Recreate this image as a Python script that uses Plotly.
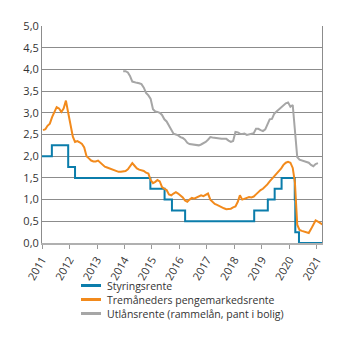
import plotly.graph_objects as go

# Styringsrente (policy rate) change dates and levels
policy_dates = ["2011-01-01", "2011-05-12", "2011-12-15", "2012-03-15", "2014-12-11",
                "2015-06-18", "2015-09-24", "2016-03-17", "2018-09-21", "2019-03-21",
                "2019-06-20", "2019-09-20", "2020-03-13", "2020-03-20", "2020-05-08",
                "2021-03-10"]
policy_rate = [2.0, 2.25, 1.75, 1.5, 1.25, 1.0, 0.75, 0.5, 0.75, 1.0,
               1.25, 1.5, 1.0, 0.25, 0.0, 0.0]

# Tremåneders pengemarkedsrente, monthly (mid-month) Jan 2011 - Mar 2021
nibor_start = "2011-01-15"
nibor = [
    2.60, 2.62, 2.70, 2.75, 2.90, 3.02, 3.13, 3.10, 3.02, 3.10, 3.28, 3.00,
    2.70, 2.45, 2.33, 2.35, 2.32, 2.28, 2.20, 2.00, 1.95, 1.90, 1.88, 1.88,
    1.90, 1.85, 1.82, 1.76, 1.74, 1.72, 1.69, 1.68, 1.66, 1.64, 1.64, 1.65,
    1.66, 1.70, 1.76, 1.84, 1.78, 1.72, 1.69, 1.68, 1.66, 1.62, 1.60, 1.45,
    1.38, 1.41, 1.45, 1.42, 1.29, 1.25, 1.22, 1.12, 1.10, 1.14, 1.17, 1.14,
    1.10, 1.05, 0.98, 0.95, 1.00, 1.04, 1.02, 1.05, 1.08, 1.10, 1.08, 1.12,
    1.14, 1.00, 0.96, 0.90, 0.88, 0.85, 0.82, 0.80, 0.78, 0.78, 0.79, 0.82,
    0.84, 0.95, 1.10, 1.00, 1.02, 1.05, 1.06, 1.05, 1.07, 1.12, 1.18, 1.22,
    1.25, 1.30, 1.35, 1.42, 1.48, 1.52, 1.58, 1.66, 1.72, 1.80, 1.85, 1.87,
    1.85, 1.73, 1.40, 0.42, 0.30, 0.28, 0.26, 0.24, 0.23, 0.32, 0.41, 0.52,
    0.49, 0.46, 0.43,
]

# Utlånsrente (rammelån, pant i bolig), monthly (mid-month) Dec 2013 - Jan 2021
lending_start = "2013-12-15"
lending = [
    3.96,
    3.96, 3.93, 3.85, 3.72, 3.70, 3.69, 3.68, 3.66, 3.58, 3.46, 3.40, 3.32,
    3.08, 3.03, 3.02, 3.00, 2.95, 2.85, 2.80, 2.70, 2.62, 2.52, 2.50, 2.48,
    2.44, 2.42, 2.38, 2.31, 2.28, 2.27, 2.27, 2.26, 2.25, 2.27, 2.30, 2.33,
    2.38, 2.44, 2.43, 2.42, 2.42, 2.41, 2.40, 2.40, 2.40, 2.36, 2.33, 2.35,
    2.56, 2.55, 2.52, 2.51, 2.52, 2.49, 2.50, 2.52, 2.53, 2.63, 2.63, 2.60,
    2.58, 2.62, 2.72, 2.85, 2.86, 2.98, 3.03, 3.08, 3.12, 3.16, 3.22, 3.24,
    3.14, 3.18, 2.50, 1.98, 1.92, 1.90, 1.88, 1.87, 1.85, 1.80, 1.77, 1.82,
    1.84,
]

series_names = ["Styringsrente", "Tremåneders pengemarkedsrente",
                "Utlånsrente (rammelån, pant i bolig)"]
colors = ["#0b7dab", "#f28a1c", "#a6a6a6"]

y_ticks = [0.0, 0.5, 1.0, 1.5, 2.0, 2.5, 3.0, 3.5, 4.0, 4.5, 5.0]
x_years = list(range(2011, 2022))


def monthly_dates(start, n):
    y, m = int(start[:4]), int(start[5:7])
    out = []
    for i in range(n):
        mm = m - 1 + i
        out.append(f"{y + mm // 12:04d}-{mm % 12 + 1:02d}-15")
    return out


fig = go.Figure()
fig.add_trace(go.Scatter(x=policy_dates, y=policy_rate, mode="lines",
                         line=dict(color=colors[0], width=2, shape="hv"),
                         name=series_names[0], showlegend=False))
fig.add_trace(go.Scatter(x=monthly_dates(lending_start, len(lending)), y=lending,
                         mode="lines", line=dict(color=colors[2], width=2),
                         name=series_names[2], showlegend=False))
fig.add_trace(go.Scatter(x=monthly_dates(nibor_start, len(nibor)), y=nibor,
                         mode="lines", line=dict(color=colors[1], width=2),
                         name=series_names[1], showlegend=False))

# manual legend
L, R, T, B = 42, 23, 26, 98
W, H = 345 - L - R, 341 - T - B
rows_px = [285.5, 299.5, 313.5]
shapes = []
annotations = []
for name, col, py in zip(series_names, colors, rows_px):
    yp = (T + H - py) / H
    shapes.append(dict(type="line", xref="paper", yref="paper",
                       x0=(81 - L) / W, x1=(101 - L) / W, y0=yp, y1=yp,
                       line=dict(color=col, width=3)))
    annotations.append(dict(xref="paper", yref="paper", x=(106 - L) / W, y=yp,
                            text=name, showarrow=False, xanchor="left",
                            yanchor="middle", borderpad=0,
                            font=dict(size=10.5, color="#333333",
                                      family="Open Sans")))

fig.update_layout(
    width=345, height=341,
    margin=dict(l=L, r=R, t=T, b=B),
    paper_bgcolor="white", plot_bgcolor="white",
    separators=", ",
    font=dict(family="Open Sans", size=11, color="#333333"),
    shapes=shapes, annotations=annotations,
    showlegend=False,
)
fig.update_xaxes(
    type="date", range=["2011-01-01", "2021-03-10"],
    tickvals=[f"{y}-01-01" for y in x_years],
    ticktext=[str(y) for y in x_years],
    tickangle=-60, ticks="outside", ticklen=4, tickcolor="#999999",
    showgrid=False, showline=True, linecolor="#b0b0b0", linewidth=2,
    zeroline=False, tickfont=dict(size=11, color="#333333"),
)
fig.update_yaxes(
    range=[0, 5.0], tickvals=y_ticks, tickformat=".1f",
    showgrid=True, gridcolor="#8c8c8c", gridwidth=1,
    showline=True, mirror=True, linecolor="#8c8c8c", linewidth=1,
    zeroline=False, ticks="", tickfont=dict(size=11, color="#333333"),
)

fig.write_html("out.html")
